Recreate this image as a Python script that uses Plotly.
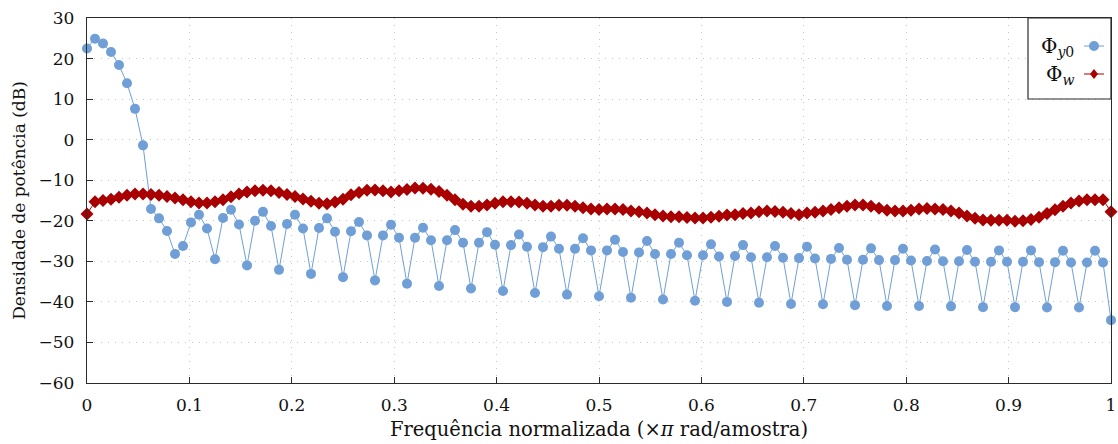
import numpy as np
import plotly.graph_objects as go

# Normalized frequency grid (x pi rad/sample), 129 bins
freq = np.linspace(0, 1, 129)

phi_y0 = [
    22.5, 24.9, 23.7, 21.6, 18.4, 13.9, 7.6, -1.4, -17.1, -19.4,
    -22.5, -28.2, -26.2, -20.4, -18.5, -21.9, -29.5, -19.3, -17.3, -20.9,
    -31.0, -20.0, -17.8, -21.3, -32.1, -20.8, -18.5, -21.9, -33.1, -21.8,
    -19.4, -22.7, -33.9, -22.6, -20.3, -23.6, -34.7, -23.6, -21.0, -24.2,
    -35.5, -24.2, -21.7, -24.8, -36.1, -24.8, -22.3, -25.4, -36.7, -25.4,
    -22.8, -25.9, -37.3, -26.0, -23.4, -26.4, -37.8, -26.5, -23.9, -26.9,
    -38.2, -26.9, -24.3, -27.3, -38.6, -27.3, -24.7, -27.7, -39.0, -27.8,
    -25.0, -28.2, -39.4, -28.2, -25.4, -28.5, -39.7, -28.5, -25.8, -28.8,
    -40.0, -28.7, -26.0, -29.0, -40.2, -29.0, -26.2, -29.1, -40.5, -29.2,
    -26.4, -29.3, -40.6, -29.4, -26.7, -29.6, -40.8, -29.6, -26.8, -29.7,
    -41.0, -29.7, -26.9, -29.8, -41.0, -29.9, -27.1, -30.0, -41.1, -30.0,
    -27.2, -30.1, -41.3, -30.1, -27.3, -30.1, -41.3, -30.1, -27.3, -30.2,
    -41.4, -30.2, -27.4, -30.3, -41.4, -30.3, -27.4, -30.3, -44.5,
]

phi_w = [
    -18.3, -15.3, -15.0, -14.7, -14.2, -13.7, -13.4, -13.4, -13.5, -13.7,
    -14.0, -14.4, -14.8, -15.3, -15.6, -15.6, -15.3, -14.8, -14.1, -13.4,
    -12.9, -12.6, -12.5, -12.6, -13.0, -13.5, -14.0, -14.6, -15.2, -15.7,
    -15.8, -15.4, -14.7, -13.6, -13.0, -12.5, -12.4, -12.6, -12.9, -12.6,
    -12.3, -11.9, -12.0, -12.2, -12.8, -13.7, -14.8, -15.9, -16.4, -16.4,
    -16.1, -15.7, -15.3, -15.3, -15.4, -15.7, -16.1, -16.4, -16.4, -16.2,
    -16.2, -16.4, -16.8, -17.1, -17.2, -17.1, -17.1, -17.2, -17.6, -17.8,
    -18.1, -18.5, -18.8, -19.0, -19.0, -19.2, -19.3, -19.3, -19.1, -18.9,
    -18.6, -18.5, -18.2, -18.1, -17.8, -17.6, -17.7, -17.9, -18.2, -18.5,
    -18.1, -17.9, -17.6, -17.2, -16.8, -16.4, -16.1, -16.1, -16.4, -16.9,
    -17.4, -17.6, -17.6, -17.4, -17.1, -17.0, -17.1, -17.2, -17.6, -18.1,
    -18.8, -19.4, -19.8, -19.9, -19.9, -19.9, -20.1, -20.0, -19.7, -19.1,
    -18.2, -17.3, -16.4, -15.6, -15.1, -14.8, -14.8, -14.8, -17.8,
]

x_ticks = [0, 0.1, 0.2, 0.3, 0.4, 0.5, 0.6, 0.7, 0.8, 0.9, 1]
x_ticklabels = ["0", "0.1", "0.2", "0.3", "0.4", "0.5", "0.6", "0.7", "0.8", "0.9", "1"]
y_ticks = [-60, -50, -40, -30, -20, -10, 0, 10, 20, 30]

BLUE = "#6f9fd6"
RED = "#a80000"
FONT = "DejaVu Serif"
FS = 17

fig = go.Figure()
fig.add_trace(go.Scatter(
    x=freq, y=phi_y0, mode="lines+markers", name="Φy0",
    line=dict(color=BLUE, width=1),
    marker=dict(symbol="circle", size=10, color=BLUE),
    cliponaxis=False, showlegend=False,
))
fig.add_trace(go.Scatter(
    x=freq, y=phi_w, mode="lines+markers", name="Φw",
    line=dict(color=RED, width=1),
    marker=dict(symbol="diamond", size=10, color=RED),
    cliponaxis=False, showlegend=False,
))

axis_common = dict(
    showline=True, linecolor="#2b2b2b", linewidth=1.3, mirror=True,
    ticks="inside", ticklen=6, tickcolor="#2b2b2b", tickwidth=1,
    showgrid=True, gridcolor="#c4c4c4", griddash="1px,6px", gridwidth=1,
    zeroline=False, tickfont=dict(family=FONT, size=FS, color="#111"),
)

fig.update_xaxes(
    range=[0, 1], tickvals=x_ticks, ticktext=x_ticklabels,
    title=dict(text="Frequência normalizada (×<i>π</i> rad/amostra)",
               font=dict(family=FONT, size=19.5, color="#111"), standoff=8),
    ticklabelstandoff=6,
    **axis_common,
)
fig.update_yaxes(
    range=[-60, 30], tickvals=y_ticks,
    title=dict(text="Densidade de potência (dB)",
               font=dict(family=FONT, size=FS, color="#111"), standoff=8),
    ticklabelstandoff=8,
    **axis_common,
)

# pgfplots-style legend box (text left, marker sample right)
L = 87
PW = 1024
PH = 365
B = 383


def px(xp):
    return (xp - L) / PW


def py(yp):
    return (B - yp) / PH


shapes = [
    dict(type="rect", xref="paper", yref="paper", x0=px(1028), x1=1.0,
         y0=py(99), y1=1.0, line=dict(color="#2b2b2b", width=1.2),
         fillcolor="white", layer="above"),
    dict(type="line", xref="paper", yref="paper", x0=px(1084), x1=px(1104),
         y0=py(46), y1=py(46), line=dict(color=BLUE, width=1), layer="above"),
    dict(type="circle", xref="paper", yref="paper", xsizemode="pixel",
         ysizemode="pixel", xanchor=px(1094), yanchor=py(46),
         x0=-5, x1=5, y0=-5, y1=5, fillcolor=BLUE, line=dict(width=0),
         layer="above"),
    dict(type="line", xref="paper", yref="paper", x0=px(1084), x1=px(1104),
         y0=py(74), y1=py(74), line=dict(color=RED, width=1), layer="above"),
    dict(type="path", xref="paper", yref="paper", xsizemode="pixel",
         ysizemode="pixel", xanchor=px(1094), yanchor=py(74),
         path="M 0,5 L 4,0 L 0,-5 L -4,0 Z", fillcolor=RED,
         line=dict(width=0), layer="above"),
]

annotations = [
    dict(xref="paper", yref="paper", x=px(1076), y=py(47), xanchor="right",
         yanchor="middle", showarrow=False,
         text="Φ<sub><i>y</i>0</sub>", font=dict(family=FONT, size=20, color="#111")),
    dict(xref="paper", yref="paper", x=px(1076), y=py(75), xanchor="right",
         yanchor="middle", showarrow=False,
         text="Φ<sub><i>w</i></sub>", font=dict(family=FONT, size=20, color="#111")),
]

fig.update_layout(
    width=1118, height=444,
    margin=dict(l=87, r=7, t=18, b=61, autoexpand=False),
    paper_bgcolor="white", plot_bgcolor="white",
    shapes=shapes, annotations=annotations,
    showlegend=False,
)

fig.write_html("out.html")
